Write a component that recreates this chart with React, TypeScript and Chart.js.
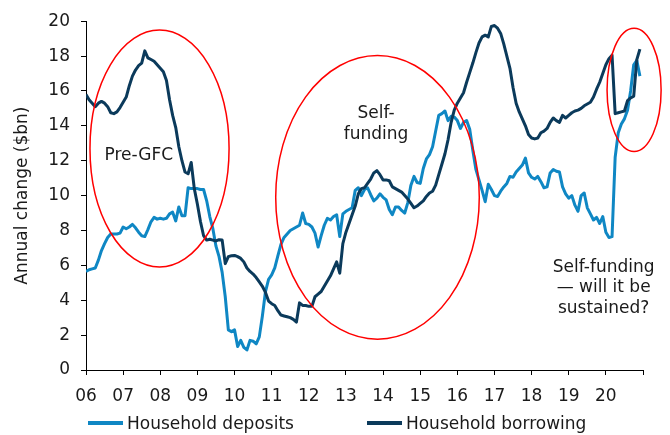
import React, { useEffect, useRef } from 'react';
import { Chart, registerables } from 'chart.js';

Chart.register(...registerables);

// ---- Data (monthly, Jan 2006 .. Dec 2020) ----
const FIRST_YEAR = 2006;
const LAST_YEAR = 2021;
const yearTickLabels = ['06', '07', '08', '09', '10', '11', '12', '13', '14', '15', '16', '17', '18', '19', '20'];

const householdDeposits = [
  // 2006
  5.65, 5.75, 5.8, 5.85, 6.3, 6.85, 7.25, 7.6, 7.8, 7.8, 7.8, 7.85,
  // 2007
  8.2, 8.1, 8.2, 8.35, 8.15, 7.9, 7.7, 7.65, 8.05, 8.5, 8.75, 8.65,
  // 2008
  8.7, 8.65, 8.7, 8.95, 9.05, 8.55, 9.35, 8.85, 8.85, 10.45, 10.4, 10.4,
  // 2009
  10.4, 10.35, 10.35, 9.7, 8.8, 8.1, 7.1, 6.5, 5.6, 4.2, 2.3, 2.2,
  // 2010
  2.3, 1.35, 1.7, 1.3, 1.15, 1.7, 1.65, 1.5, 1.9, 3.1, 4.5, 5.2,
  // 2011
  5.45, 5.85, 6.55, 7.2, 7.6, 7.8, 8.0, 8.1, 8.2, 8.3, 9.0, 8.4,
  // 2012
  8.35, 8.2, 7.85, 7.05, 7.7, 8.3, 8.7, 8.6, 8.8, 8.9, 7.65, 8.95,
  // 2013
  9.1, 9.2, 9.3, 10.3, 10.45, 10.0, 10.35, 10.45, 10.05, 9.7, 9.85, 10.1,
  // 2014
  9.9, 9.75, 9.2, 8.9, 9.35, 9.35, 9.15, 9.0, 9.6, 10.6, 11.1, 10.75,
  // 2015
  10.7, 11.55, 12.1, 12.35, 12.8, 13.7, 14.6, 14.7, 14.85, 14.3, 14.55, 14.5,
  // 2016
  14.3, 13.85, 14.2, 14.3, 13.8, 12.6, 11.5, 10.9, 10.3, 9.65, 10.65, 10.35,
  // 2017
  10.0, 9.95, 10.25, 10.5, 10.7, 11.1, 11.05, 11.35, 11.55, 11.75, 12.15, 11.3,
  // 2018
  11.05, 10.95, 11.1, 10.8, 10.45, 10.5, 11.3, 11.5, 11.4, 11.35, 10.5, 10.1,
  // 2019
  9.85, 10.0, 9.45, 9.1, 10.0, 10.15, 9.3, 8.95, 8.6, 8.75, 8.4, 8.8,
  // 2020
  7.9, 7.6, 7.65, 12.2, 13.6, 14.1, 14.4, 14.9, 16.0, 17.5, 17.75, 16.85,
];

const householdBorrowing = [
  // 2006
  15.8, 15.5, 15.3, 15.1, 15.3, 15.4, 15.3, 15.1, 14.75, 14.7, 14.8, 15.05,
  // 2007
  15.35, 15.65, 16.3, 16.85, 17.2, 17.45, 17.6, 18.3, 17.9, 17.8, 17.7, 17.5,
  // 2008
  17.3, 17.1, 16.6, 15.5, 14.6, 13.9, 12.8, 12.0, 11.35, 11.25, 11.9, 10.4,
  // 2009
  9.5, 8.5, 7.7, 7.45, 7.5, 7.45, 7.4, 7.47, 7.45, 6.1, 6.5, 6.55,
  // 2010
  6.57, 6.5, 6.4, 6.2, 5.85, 5.65, 5.5, 5.3, 5.05, 4.8, 4.45, 3.95,
  // 2011
  3.8, 3.7, 3.4, 3.15, 3.1, 3.05, 3.0, 2.9, 2.75, 3.85, 3.7, 3.7,
  // 2012
  3.65, 3.65, 4.2, 4.35, 4.5, 4.8, 5.1, 5.4, 5.8, 6.2, 5.55, 7.25,
  // 2013
  7.9, 8.4, 8.9, 9.4, 10.1, 10.4, 10.45, 10.7, 10.95, 11.3, 11.43, 11.2,
  // 2014
  10.9, 10.9, 10.85, 10.5, 10.4, 10.3, 10.2, 10.0, 9.8, 9.55, 9.3, 9.4,
  // 2015
  9.55, 9.7, 9.95, 10.15, 10.25, 10.6, 11.2, 11.8, 12.4, 13.2, 14.2, 14.9,
  // 2016
  15.3, 15.6, 15.9, 16.5, 17.05, 17.6, 18.2, 18.75, 19.1, 19.2, 19.1, 19.7,
  // 2017
  19.75, 19.6, 19.3, 18.7, 18.0, 17.3, 16.2, 15.3, 14.8, 14.4, 14.0, 13.5,
  // 2018
  13.3, 13.25, 13.3, 13.6, 13.7, 13.85, 14.2, 14.45, 14.3, 14.2, 14.6, 14.45,
  // 2019
  14.6, 14.75, 14.85, 14.9, 15.0, 15.15, 15.25, 15.35, 15.65, 16.1, 16.5, 17.0,
  // 2020
  17.5, 17.85, 18.05, 14.7, 14.75, 14.8, 14.85, 15.45, 15.6, 15.7, 17.8, 18.4,
];

const seriesNames = ['Household deposits', 'Household borrowing'];
const seriesColors = ['#0F87C4', '#0B3A5B'];

const yAxisTitle = 'Annual change ($bn)';

// Annotations in data coordinates (year, $bn)
const ellipses = [
  { cx: 2007.98, cy: 12.7, rx: 1.873, ry: 6.79 },
  { cx: 2013.85, cy: 9.9, rx: 2.741, ry: 8.13 },
  { cx: 2020.76, cy: 16.06, rx: 0.728, ry: 3.53 },
];
const notes = [
  { x: 2007.42, y: 12.29, lines: ['Pre-GFC'] },
  { x: 2013.81, y: 14.7, lines: ['Self-', 'funding'] },
  { x: 2019.94, y: 5.9, lines: ['Self-funding', '\u2014 will it be', 'sustained?'] },
];

const FONT = '"DejaVu Sans", Verdana, sans-serif';
const TEXT_COLOR = '#1a1a1a';

const toPoints = (values: number[]) =>
  values.map((v, i) => ({ x: FIRST_YEAR + i / 12, y: v }));

const annotationPlugin = {
  id: 'annotations',
  afterDatasetsDraw(chart: any) {
    const { ctx, scales } = chart;
    const x = scales.x;
    const y = scales.y;
    ctx.save();
    ctx.strokeStyle = '#FF0000';
    ctx.lineWidth = 1.5;
    for (const e of ellipses) {
      const cx = x.getPixelForValue(e.cx);
      const cy = y.getPixelForValue(e.cy);
      const rx = Math.abs(x.getPixelForValue(e.cx + e.rx) - cx);
      const ry = Math.abs(y.getPixelForValue(e.cy + e.ry) - cy);
      ctx.beginPath();
      ctx.ellipse(cx, cy, rx, ry, 0, 0, Math.PI * 2);
      ctx.stroke();
    }
    ctx.fillStyle = TEXT_COLOR;
    ctx.font = `17px ${FONT}`;
    ctx.textAlign = 'center';
    ctx.textBaseline = 'middle';
    for (const n of notes) {
      const px = x.getPixelForValue(n.x);
      const py = y.getPixelForValue(n.y);
      n.lines.forEach((line, k) => ctx.fillText(line, px, py + k * 20.5));
    }
    ctx.restore();
  },
};

export default function App() {
  const canvasRef = useRef<HTMLCanvasElement | null>(null);

  useEffect(() => {
    if (!canvasRef.current) return;
    const chart = new Chart(canvasRef.current, {
      type: 'line',
      data: {
        datasets: [
          {
            label: seriesNames[0],
            data: toPoints(householdDeposits),
            borderColor: seriesColors[0],
            backgroundColor: seriesColors[0],
            borderWidth: 3,
            pointRadius: 0,
            tension: 0,
            fill: false,
            order: 1,
            borderJoinStyle: 'round',
          },
          {
            label: seriesNames[1],
            data: toPoints(householdBorrowing),
            borderColor: seriesColors[1],
            backgroundColor: seriesColors[1],
            borderWidth: 3,
            pointRadius: 0,
            tension: 0,
            fill: false,
            order: 0,
            borderJoinStyle: 'round',
          },
        ],
      },
      options: {
        animation: false,
        responsive: false,
        devicePixelRatio: 1,
        layout: { padding: { left: 0, right: 27, top: 20, bottom: 25 } },
        plugins: {
          legend: { display: false },
          tooltip: { enabled: false },
        },
        scales: {
          x: {
            type: 'linear',
            min: FIRST_YEAR,
            max: LAST_YEAR,
            afterFit: (s: any) => {
              s.height = 40;
            },
            ticks: {
              stepSize: 1,
              autoSkip: false,
              maxRotation: 0,
              padding: 11,
              color: TEXT_COLOR,
              font: { family: FONT, size: 17 },
              callback: (v: any) => {
                const idx = Math.round(Number(v)) - FIRST_YEAR;
                return yearTickLabels[idx] ?? '';
              },
            },
            grid: {
              display: true,
              drawOnChartArea: false,
              drawTicks: true,
              tickLength: 5,
              color: '#000',
            },
            border: { display: true, color: '#000', width: 1 },
          },
          y: {
            min: 0,
            max: 20,
            afterFit: (s: any) => {
              s.width = 86;
            },
            ticks: {
              stepSize: 2,
              padding: 11,
              color: TEXT_COLOR,
              font: { family: FONT, size: 17 },
            },
            grid: {
              display: true,
              drawOnChartArea: false,
              drawTicks: true,
              tickLength: 5,
              color: '#000',
            },
            border: { display: true, color: '#000', width: 1 },
            title: {
              display: true,
              text: yAxisTitle,
              color: TEXT_COLOR,
              font: { family: FONT, size: 17 },
              padding: { top: 12, bottom: 0 },
            },
          },
        },
      },
      plugins: [annotationPlugin],
    } as any);
    return () => chart.destroy();
  }, []);

  return (
    <div style={{ position: 'fixed', left: 0, top: 0, width: 670, height: 435, background: '#fff' }}>
      <canvas ref={canvasRef} width={670} height={435} style={{ display: 'block' }} />
      <div
        style={{
          position: 'absolute',
          left: 88,
          top: 413,
          display: 'flex',
          alignItems: 'center',
          gap: 73,
          fontFamily: FONT,
          fontSize: 17,
          lineHeight: '20px',
          color: TEXT_COLOR,
          whiteSpace: 'nowrap',
        }}
      >
        {seriesNames.map((name, i) => (
          <div key={name} style={{ display: 'flex', alignItems: 'center' }}>
            <span
              style={{
                display: 'inline-block',
                width: 35,
                height: 3.5,
                background: seriesColors[i],
                marginRight: 4,
              }}
            />
            <span>{name}</span>
          </div>
        ))}
      </div>
    </div>
  );
}
